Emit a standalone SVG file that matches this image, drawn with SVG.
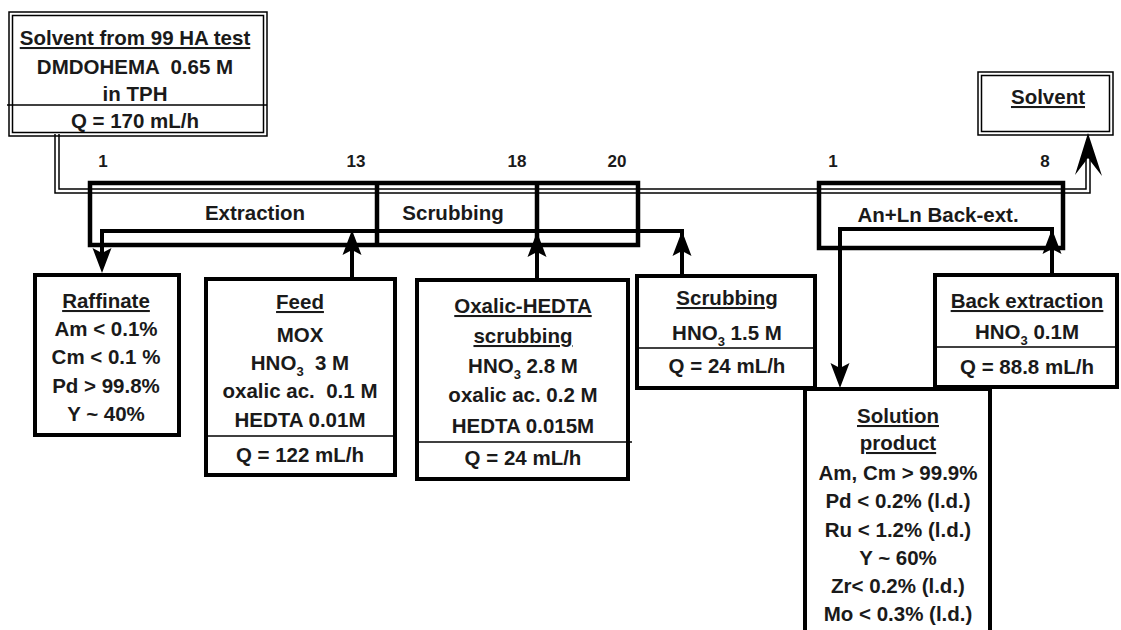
<svg xmlns="http://www.w3.org/2000/svg" width="1121" height="630" viewBox="0 0 1121 630">
<style>
text{font-family:"Liberation Sans",Arial,Helvetica,sans-serif;font-weight:bold;font-size:20.5px;fill:#1a1a1a;text-anchor:middle}
.u{text-decoration:underline}
.num{font-size:17px}
.sub{font-size:13px}
.box{fill:#fff;stroke:#000;stroke-width:4}
.thin{stroke:#000;stroke-width:1.5;fill:none}
.flow{fill:none;stroke:#000;stroke-width:4}
.dbl-o{fill:none;stroke:#000;stroke-width:5.5}
.dbl-i{fill:none;stroke:#fff;stroke-width:2.5}
.ct{fill:none;stroke:#000;stroke-width:4.5}
</style>
<defs>
<path id="ah" d="M0,0 L9.5,25 L0,20 L-9.5,25 Z" fill="#000"/>
</defs>
<rect width="1121" height="630" fill="#fff"/>

<g id="connectors">
<path class="dbl-o" d="M57,134 V191 H1088 V160"/>
<path class="dbl-i" d="M57,134 V191 H1088 V158"/>
<path d="M1088,133 L1102,176 L1088,158 L1075,175 Z" fill="#000"/>
</g>

<g id="contactor-extraction-scrubbing">
<rect class="ct" x="90" y="183" width="548" height="62"/>
<line class="ct" x1="377" y1="183" x2="377" y2="245"/>
<line class="ct" x1="537" y1="183" x2="537" y2="245"/>
<text x="255" y="220">Extraction</text>
<text x="453" y="220">Scrubbing</text>
</g>
<g id="contactor-backext">
<rect class="ct" x="819" y="183" width="244" height="65"/>
<text x="938" y="222">An+Ln Back-ext.</text>
</g>

<g id="stages">
<text class="num" x="103" y="167">1</text>
<text class="num" x="356" y="167">13</text>
<text class="num" x="517" y="167">18</text>
<text class="num" x="617" y="167">20</text>
<text class="num" x="833" y="167">1</text>
<text class="num" x="1045" y="167">8</text>
</g>

<g id="flows">
<path class="flow" d="M682,276 V231 H102 V255"/>
<use href="#ah" transform="translate(102,273) rotate(180)"/>
<path class="flow" d="M352,279 V248"/>
<use href="#ah" transform="translate(352,230)"/>
<path class="flow" d="M537,280 V250"/>
<use href="#ah" transform="translate(537,232)"/>
<use href="#ah" transform="translate(682,231)"/>
<path class="flow" d="M1052,275 V229 H840 V370"/>
<use href="#ah" transform="translate(1052,229)"/>
</g>

<g id="solvent-in">
<rect x="9" y="12" width="258" height="124" fill="#fff" class="thin"/>
<rect x="12.5" y="15.5" width="251" height="117" class="thin"/>
<line class="thin" x1="7" y1="105" x2="267" y2="105"/>
<text class="u" x="135" y="45">Solvent from 99 HA test</text>
<text x="135" y="74" xml:space="preserve">DMDOHEMA  0.65 M</text>
<text x="135" y="101">in TPH</text>
<text x="135" y="128">Q = 170 mL/h</text>
</g>

<g id="solvent-out">
<rect x="978" y="72" width="135" height="63" fill="#fff" class="thin"/>
<rect x="981.5" y="75.5" width="128" height="56" class="thin"/>
<text class="u" x="1048" y="104">Solvent</text>
</g>

<g id="raffinate">
<rect class="box" x="35" y="275" width="144" height="160"/>
<text class="u" x="106" y="308">Raffinate</text>
<text x="106" y="336">Am &lt; 0.1%</text>
<text x="106" y="364">Cm &lt; 0.1 %</text>
<text x="106" y="393">Pd &gt; 99.8%</text>
<text x="106" y="421">Y ~ 40%</text>
</g>

<g id="feed">
<rect class="box" x="206" y="279" width="189" height="196"/>
<line class="thin" x1="206" y1="436" x2="395" y2="436"/>
<text class="u" x="300" y="309">Feed</text>
<text x="300" y="342">MOX</text>
<text x="300" y="370" xml:space="preserve">HNO<tspan class="sub" dy="6">3</tspan><tspan dy="-6">  3 M</tspan></text>
<text x="300" y="398" xml:space="preserve">oxalic ac.  0.1 M</text>
<text x="300" y="427">HEDTA 0.01M</text>
<text x="300" y="462">Q = 122 mL/h</text>
</g>

<g id="oxalic-hedta">
<rect class="box" x="417" y="280" width="211" height="199"/>
<line class="thin" x1="417" y1="442" x2="632" y2="442"/>
<text class="u" x="523" y="313">Oxalic-HEDTA</text>
<text class="u" x="523" y="343">scrubbing</text>
<text x="523" y="373">HNO<tspan class="sub" dy="6">3</tspan><tspan dy="-6"> 2.8 M</tspan></text>
<text x="523" y="402">oxalic ac. 0.2 M</text>
<text x="523" y="433">HEDTA 0.015M</text>
<text x="523" y="465">Q = 24 mL/h</text>
</g>

<g id="scrubbing">
<rect class="box" x="637" y="276" width="178" height="112"/>
<line class="thin" x1="637" y1="348" x2="815" y2="348"/>
<text class="u" x="727" y="305">Scrubbing</text>
<text x="727" y="340">HNO<tspan class="sub" dy="6">3</tspan><tspan dy="-6"> 1.5 M</tspan></text>
<text x="727" y="373">Q = 24 mL/h</text>
</g>

<g id="back-extraction">
<rect class="box" x="935" y="275" width="182" height="112"/>
<line class="thin" x1="935" y1="347" x2="1117" y2="347"/>
<text class="u" x="1027" y="308">Back extraction</text>
<text x="1027" y="339">HNO<tspan class="sub" dy="6">3</tspan><tspan dy="-6"> 0.1M</tspan></text>
<text x="1027" y="374">Q = 88.8 mL/h</text>
</g>

<g id="solution-product">
<rect class="box" x="805" y="389" width="185" height="260"/>
<text class="u" x="898" y="423">Solution</text>
<text class="u" x="898" y="450">product</text>
<text x="898" y="480">Am, Cm &gt; 99.9%</text>
<text x="898" y="508">Pd &lt; 0.2% (l.d.)</text>
<text x="898" y="537">Ru &lt; 1.2% (l.d.)</text>
<text x="898" y="565">Y ~ 60%</text>
<text x="898" y="593">Zr&lt; 0.2% (l.d.)</text>
<text x="898" y="621">Mo &lt; 0.3% (l.d.)</text>
</g>
<use href="#ah" transform="translate(840,388) rotate(180)"/>
</svg>
